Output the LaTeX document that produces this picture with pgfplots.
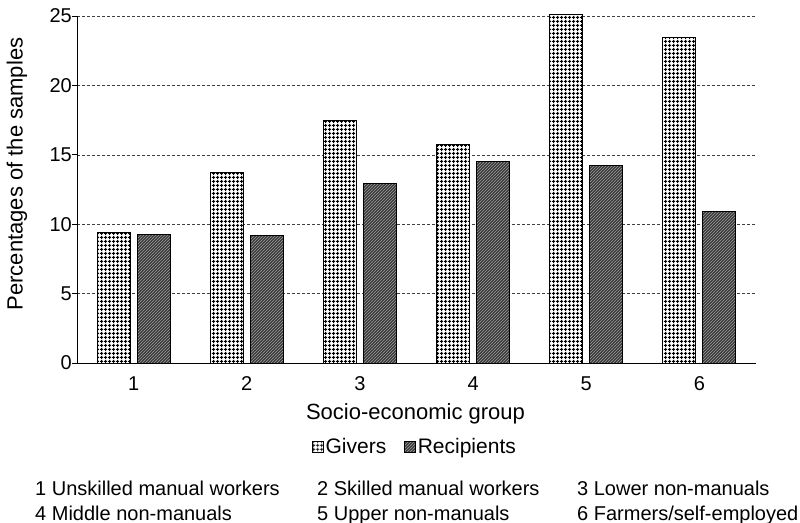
\documentclass[border=0pt]{standalone}
\usepackage{pgfplots}
\pgfplotsset{compat=1.18}
\usepackage{fontspec}
\setmainfont{Liberation Sans}
\usetikzlibrary{patterns.meta}

% square grid fill for the givers
\tikzdeclarepattern{
  name=givergrid, type=uncolored,
  bounding box={(0,0) and (4bp,4bp)},
  tile size={(4bp,4bp)},
  code={\draw[line width=1bp] (0,2bp) -- (4bp,2bp) (2bp,0) -- (2bp,4bp);}
}
% fine diagonal hatching for the recipients
\tikzdeclarepattern{
  name=recdiag, type=uncolored,
  bounding box={(-0.5bp,-0.5bp) and (3.5bp,3.5bp)},
  tile size={(3bp,3bp)},
  code={\draw[line width=0.6bp] (-0.5bp,-0.5bp) -- (3.5bp,3.5bp);}
}

\pgfplotstableread{
grp givers recipients
1 9.42 9.27
2 13.76 9.17
3 17.51 12.95
4 15.73 14.53
5 25.14 14.24
6 23.44 10.93
}\socdata

\begin{document}
\begin{tikzpicture}
\useasboundingbox (0,0) rectangle (800bp,-523bp);
\begin{axis}[
  at={(77bp,-363bp)}, anchor=south west,
  scale only axis, width=679bp, height=347bp,
  clip=false,
  ybar=7bp, bar width=33bp,
  xmin=0.5, xmax=6.5, ymin=0, ymax=25,
  axis x line*=bottom, axis y line*=left,
  axis line style={black, line width=0.9bp},
  xtick={1,...,6},
  xticklabels={1,2,3,4,5,6},
  major x tick style={draw=none},
  extra x ticks={0.5,1.5,...,6.5},
  extra x tick labels={},
  extra x tick style={tick align=outside, major tick length=5bp,
    tick style={black, line width=0.8bp}, grid=none},
  ytick={0,5,...,25},
  tick align=outside,
  major tick length=5bp,
  tick style={black, line width=0.8bp},
  ymajorgrids,
  major grid style={black!75, line width=0.6bp, dash pattern=on 3bp off 2bp},
  /pgf/number format/assume math mode=true,
  tick label style={font=\fontsize{20bp}{24bp}\selectfont},
  xticklabel style={anchor=base, inner sep=0pt, yshift=-22bp},
  yticklabel style={anchor=east, inner sep=0pt},
  xlabel={Socio-economic group},
  ylabel={Percentages of the samples},
  label style={font=\fontsize{22bp}{26bp}\selectfont},
  xlabel style={at={(axis description cs:0.4985,-0.164)}, anchor=base, inner sep=0pt},
  ylabel style={at={(axis description cs:-0.0884,0.5447)}, anchor=center, inner sep=0pt},
  legend columns=2,
  legend style={draw=none, fill=none, at={(axis description cs:0.4978,-0.242)},
    anchor=center, font=\fontsize{21bp}{25bp}\selectfont,
    /tikz/every even column/.append style={column sep=16bp},
    inner sep=0pt, cells={anchor=west}},
  legend image code/.code={\draw[#1, line width=0.5bp] (0bp,-5.5bp) rectangle (11bp,5.5bp);},
]
\addplot[draw=black, line width=0.9bp, fill=white,
  postaction={pattern={givergrid}, pattern color=black}]
  table[x=grp, y=givers] {\socdata};
\addplot[draw=black, line width=0.9bp, fill=black!78,
  postaction={pattern={recdiag}, pattern color=black!40}]
  table[x=grp, y=recipients] {\socdata};
\legend{Givers, Recipients}
\end{axis}
\begin{scope}[every node/.style={anchor=base west, inner sep=0pt, font=\fontsize{20bp}{24bp}\selectfont}]
\node at (35bp,-495bp) {1 Unskilled manual workers};
\node at (317bp,-495bp) {2 Skilled manual workers};
\node at (577bp,-495bp) {3 Lower non-manuals};
\node at (35bp,-520bp) {4 Middle non-manuals};
\node at (317bp,-520bp) {5 Upper non-manuals};
\node at (577bp,-520bp) {6 Farmers/self-employed};
\end{scope}
\end{tikzpicture}
\end{document}
